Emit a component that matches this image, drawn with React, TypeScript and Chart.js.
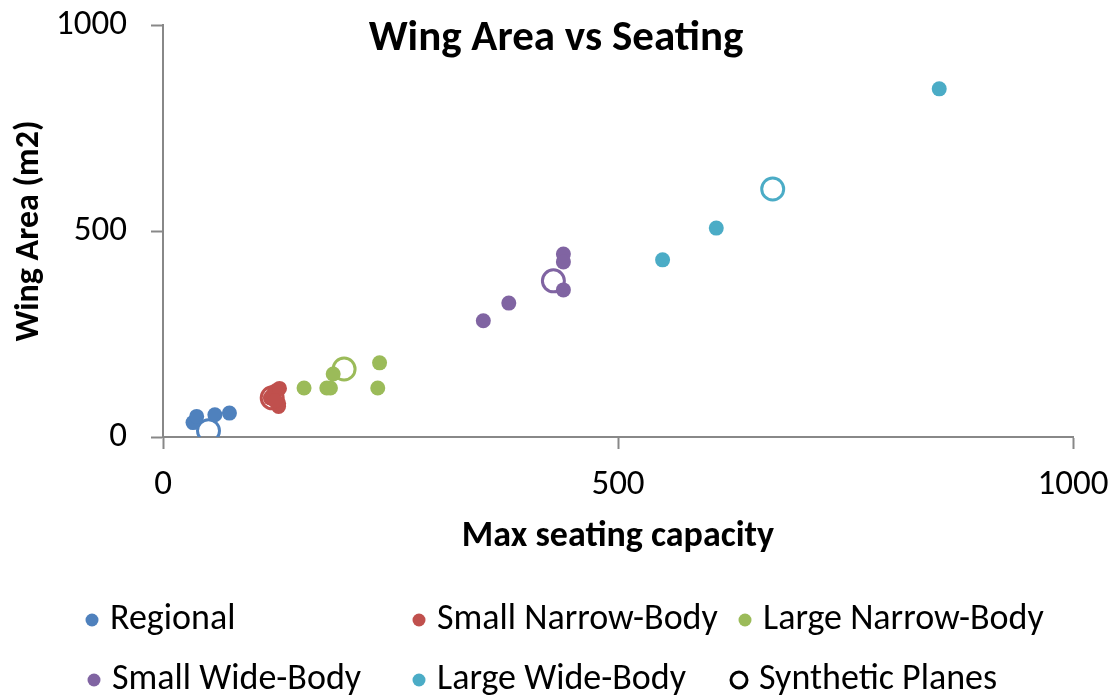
import React, { useEffect, useRef } from "react";
import { Chart, registerables } from "chart.js";

Chart.register(...registerables);

const FONT = "Carlito, Calibri, 'Liberation Sans Narrow', 'Liberation Sans', sans-serif";

const seriesNames = ["Regional", "Small Narrow-Body", "Large Narrow-Body", "Small Wide-Body", "Large Wide-Body"];
const seriesColors = ["#4F81BD", "#C0504D", "#9BBB59", "#8064A2", "#4BACC6"];

const regionalSeats = [33, 37, 57, 73];
const regionalArea = [35, 50, 54, 58];
const smallNarrowSeats = [118, 121, 124, 128, 127, 127, 123];
const smallNarrowArea = [95, 103, 112, 118, 82, 74, 88];
const largeNarrowSeats = [155, 180, 184, 187, 238, 236];
const largeNarrowArea = [119, 119, 119, 153, 180, 119];
const smallWideSeats = [352, 380, 440, 440, 440];
const smallWideArea = [282, 325, 444, 425, 357];
const largeWideSeats = [549, 608, 853];
const largeWideArea = [430, 507, 845];
const syntheticSeats = [50, 120, 199, 429, 670];
const syntheticArea = [15, 95, 165, 379, 602];

const xTicks = [0, 500, 1000];
const yTicks = [0, 500, 1000];

const titleText = "Wing Area vs Seating";
const xTitle = "Max seating capacity";
const yTitle = "Wing Area (m2)";
const syntheticName = "Synthetic Planes";

const pts = (xs: number[], ys: number[]) => xs.map((x, i) => ({ x, y: ys[i] }));

export default function App() {
  const ref = useRef<HTMLCanvasElement>(null);
  useEffect(() => {
    document.body.style.margin = "0";
    const seriesData = [
      pts(regionalSeats, regionalArea),
      pts(smallNarrowSeats, smallNarrowArea),
      pts(largeNarrowSeats, largeNarrowArea),
      pts(smallWideSeats, smallWideArea),
      pts(largeWideSeats, largeWideArea),
    ];
    const datasets: any[] = seriesData.map((d, i) => ({
      label: seriesNames[i],
      data: d,
      backgroundColor: seriesColors[i],
      borderColor: seriesColors[i],
      pointRadius: 7.5,
      pointBorderWidth: 0,
    }));
    datasets.push({
      label: syntheticName,
      data: pts(syntheticSeats, syntheticArea),
      backgroundColor: "rgba(0,0,0,0)",
      pointBorderColor: seriesColors,
      borderColor: "#000",
      pointRadius: 11,
      pointBorderWidth: 3,
    });

    const overlay = {
      id: "overlay",
      afterDraw(chart: any) {
        const ctx = chart.ctx;
        ctx.save();
        ctx.fillStyle = "#000";
        ctx.font = `bold 43px ${FONT}`;
        ctx.textAlign = "center";
        ctx.textBaseline = "middle";
        ctx.fillText(titleText, 556, 39);
        const items = [
          { label: seriesNames[0], color: seriesColors[0], x: 92, y: 620, open: false },
          { label: seriesNames[1], color: seriesColors[1], x: 419, y: 620, open: false },
          { label: seriesNames[2], color: seriesColors[2], x: 745, y: 620, open: false },
          { label: seriesNames[3], color: seriesColors[3], x: 94, y: 680, open: false },
          { label: seriesNames[4], color: seriesColors[4], x: 419, y: 680, open: false },
          { label: syntheticName, color: "#000", x: 739, y: 680, open: true },
        ];
        ctx.font = `36px ${FONT}`;
        ctx.textAlign = "left";
        for (const it of items) {
          ctx.beginPath();
          if (it.open) {
            ctx.arc(it.x, it.y, 8, 0, Math.PI * 2);
            ctx.lineWidth = 3;
            ctx.strokeStyle = it.color;
            ctx.stroke();
          } else {
            ctx.arc(it.x, it.y, 6.5, 0, Math.PI * 2);
            ctx.fillStyle = it.color;
            ctx.fill();
          }
          ctx.fillStyle = "#000";
          ctx.fillText(it.label, it.x + (it.open ? 20 : 18), it.y);
        }
        ctx.restore();
      },
    };

    const chart = new Chart(ref.current!, {
      type: "scatter",
      data: { datasets },
      plugins: [overlay],
      options: {
        animation: false,
        responsive: false,
        layout: { padding: { left: 0, top: 25, right: 47, bottom: 141 } },
        plugins: { legend: { display: false }, title: { display: false }, tooltip: { enabled: false } },
        scales: {
          x: {
            type: "linear",
            min: 0,
            max: 1000,
            afterFit: (s: any) => {
              s.height = 122;
              s.paddingLeft = 0;
              s.paddingRight = 0;
            },
            afterBuildTicks: (s: any) => { s.ticks = xTicks.map((v) => ({ value: v })); },
            ticks: { font: { family: FONT, size: 35 }, color: "#000", padding: 15, callback: (v: any) => String(v) },
            grid: { drawOnChartArea: false, drawTicks: true, tickLength: 12, tickColor: "#888", tickWidth: 2 },
            border: { color: "#888", width: 2 },
            title: { display: true, text: xTitle, font: { family: FONT, size: 36, weight: "bold" }, color: "#000", padding: { top: 0, bottom: 0 } },
          },
          y: {
            type: "linear",
            min: 0,
            max: 1000,
            afterFit: (s: any) => {
              s.width = 163;
              s.paddingTop = 0;
              s.paddingBottom = 0;
            },
            afterBuildTicks: (s: any) => { s.ticks = yTicks.map((v) => ({ value: v })); },
            ticks: { font: { family: FONT, size: 35 }, color: "#000", padding: 24, callback: (v: any) => String(v) },
            grid: { drawOnChartArea: false, drawTicks: true, tickLength: 12, tickColor: "#888", tickWidth: 2 },
            border: { color: "#888", width: 2 },
            title: { display: true, text: yTitle, font: { family: FONT, size: 34, weight: "bold" }, color: "#000", padding: { top: 9, bottom: 0 } },
          },
        },
      },
    });
    return () => chart.destroy();
  }, []);
  return (
    <div style={{ position: "fixed", left: 0, top: 0, width: 1120, height: 700, background: "#fff" }}>
      <canvas ref={ref} width={1120} height={700} />
    </div>
  );
}
